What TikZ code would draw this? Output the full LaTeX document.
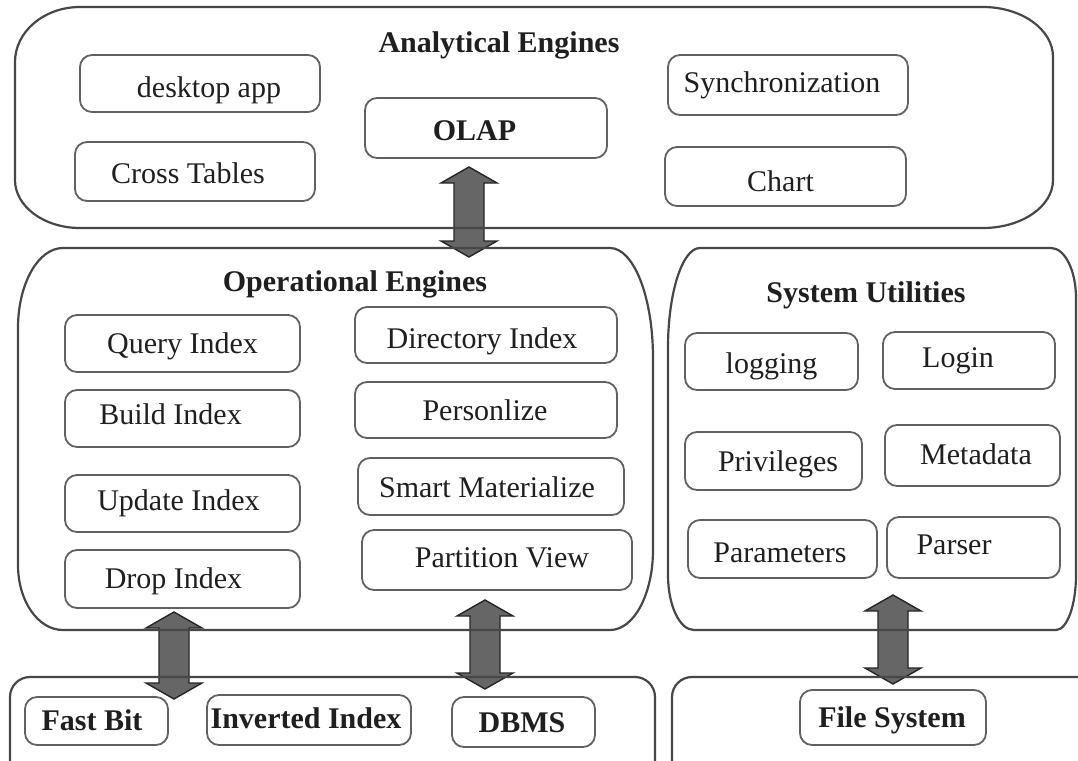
\documentclass[tikz,border=0pt]{standalone}
\usepackage{fontspec}
\setmainfont{Liberation Serif}
\usetikzlibrary{calc}
\tikzset{
  cont/.style={draw=black!72, line width=1.1pt},
  ibox/.style={draw=black!62, line width=0.9pt, rounded corners=6pt, inner sep=0pt, align=center, font=\fontsize{15}{18}\selectfont, text=black!88},
  bbox/.style={ibox, font=\fontsize{15}{18}\selectfont\bfseries},
  ttl/.style={font=\fontsize{15}{18}\selectfont\bfseries, inner sep=0pt, text=black!88},
  fatarrow/.style={draw=black!85, fill=black!60, line width=0.7pt, line join=miter},
}
% text placed inside a box: #1 horizontal shift (x2), #2 baseline raise
\newcommand\T[3]{\makebox[0pt]{\hspace*{#1}\raisebox{#2}[0pt][0pt]{#3}}}
\newcommand\fatarrow[2]{%
  \draw[fatarrow] let \p1=(#1), \p2=(#2) in
    (\x1,\y1) -- (\x1+14pt,\y1-8pt) -- (\x1+7.5pt,\y1-8pt) -- (\x1+7.5pt,\y2+8pt)
    -- (\x1+14pt,\y2+8pt) -- (\x1,\y2) -- (\x1-14pt,\y2+8pt) -- (\x1-7.5pt,\y2+8pt)
    -- (\x1-7.5pt,\y1-8pt) -- (\x1-14pt,\y1-8pt) -- cycle;}
\begin{document}
\begin{tikzpicture}[x=0.5pt, y=-0.5pt]
\clip (0,0) rectangle (1078,761);
\fill[white] (0,0) rectangle (1078,761);

% arrow end points
\coordinate (a1t) at (469,167); \coordinate (a1b) at (469,257);
\coordinate (a2t) at (174,612); \coordinate (a2b) at (174,699);
\coordinate (a3t) at (485,600); \coordinate (a3b) at (485,689);
\coordinate (a4t) at (893,595); \coordinate (a4b) at (893,684);
\fatarrow{a1t}{a1b}
\fatarrow{a2t}{a2b}
\fatarrow{a3t}{a3b}
\fatarrow{a4t}{a4b}

% containers
\draw[cont] (80,7) -- (983,7) .. controls (1021.6,7) and (1053,29.4) .. (1053,57)
  -- (1053,180) .. controls (1053,206.5) and (1021.6,228) .. (983,228)
  -- (80,228) .. controls (44.1,228) and (15,206.5) .. (15,180)
  -- (15,62) .. controls (15,31.6) and (44.1,7) .. (80,7) -- cycle;
\draw[cont] (63,248) -- (610,248) .. controls (633.7,248) and (653,297) .. (653,358)
  -- (653,550) .. controls (653,594) and (634,630) .. (610,630)
  -- (63,630) .. controls (38,630) and (18,601) .. (18,565)
  -- (18,328) .. controls (18,284) and (38,248) .. (63,248) -- cycle;
\draw[cont] (700,248) -- (1051,248) .. controls (1064.8,248) and (1076,270.4) .. (1076,298)
  -- (1076,575) .. controls (1076,605.4) and (1067,630) .. (1056,630)
  -- (694,630) .. controls (679.6,630) and (668,605.4) .. (668,575)
  -- (668,348) .. controls (668,292.8) and (682.3,248) .. (700,248) -- cycle;
\draw[cont, rounded corners=10pt] (10,790) -- (10,677) -- (655,677) -- (655,790);
\draw[cont, rounded corners=10pt] (672,790) -- (672,677) -- (1100,677);

% titles
\node[ttl] (tan) at (499,45) {Analytical Engines};
\node[ttl] (top) at (355,284) {Operational Engines};
\node[ttl] (tsu) at (866,295) {System Utilities};

% analytical engines
\node[ibox, minimum width=120pt, minimum height=28.5pt] (desk) at (200,83.5) {\T{9pt}{-6.75pt}{desktop app}};
\node[ibox, minimum width=120pt, minimum height=29.5pt] (cross) at (195,171.5) {\T{-7pt}{-5.75pt}{Cross Tables}};
\node[bbox, minimum width=121pt, minimum height=30pt] (olap) at (486,128) {\T{-11.5pt}{-6pt}{OLAP}};
\node[ibox, minimum width=120pt, minimum height=30pt] (sync) at (788,85) {\T{-6pt}{-3.5pt}{Synchronization}};
\node[ibox, minimum width=120.5pt, minimum height=29.5pt] (chart) at (785.5,176.5) {\T{-5pt}{-7.25pt}{Chart}};

% operational engines
\node[ibox, minimum width=117.5pt, minimum height=28.5pt] (qi) at (182.5,343.5) {\T{0pt}{-4.75pt}{Query Index}};
\node[ibox, minimum width=117.5pt, minimum height=28.5pt] (bi) at (182.5,418.5) {\T{-12pt}{-2.75pt}{Build Index}};
\node[ibox, minimum width=117.5pt, minimum height=28.5pt] (ui) at (182.5,503.5) {\T{-4pt}{-3.25pt}{Update Index}};
\node[ibox, minimum width=117.5pt, minimum height=29pt] (di) at (182.5,579) {\T{-9pt}{-4.5pt}{Drop Index}};
\node[ibox, minimum width=131pt, minimum height=28pt] (dir) at (486,335) {\T{-4pt}{-6.5pt}{Directory Index}};
\node[ibox, minimum width=131pt, minimum height=28pt] (pers) at (486,410) {\T{-1pt}{-5pt}{Personlize}};
\node[ibox, minimum width=133pt, minimum height=28.5pt] (smart) at (491,486.5) {\T{-4pt}{-5.25pt}{Smart Materialize}};
\node[ibox, minimum width=135pt, minimum height=30pt] (part) at (497,560) {\T{5pt}{-3.5pt}{Partition View}};

% system utilities
\node[ibox, minimum width=86.5pt, minimum height=28.5pt] (log) at (771.5,361.5) {\T{0pt}{-5.75pt}{logging}};
\node[ibox, minimum width=86pt, minimum height=28.5pt] (login) at (969,360.5) {\T{-11pt}{-3.25pt}{Login}};
\node[ibox, minimum width=88.5pt, minimum height=29pt] (priv) at (773.5,461) {\T{4.5pt}{-5pt}{Privileges}};
\node[ibox, minimum width=87.5pt, minimum height=30.5pt] (meta) at (972.5,455.5) {\T{3.5pt}{-4.25pt}{Metadata}};
\node[ibox, minimum width=94.5pt, minimum height=29pt] (param) at (782.5,549) {\T{-2.5pt}{-6.5pt}{Parameters}};
\node[ibox, minimum width=86.5pt, minimum height=30.5pt] (pars) at (973.5,547.5) {\T{-19.5pt}{-3.25pt}{Parser}};

% bottom layer
\node[bbox, minimum width=71.5pt, minimum height=24pt] (fb) at (96.5,721) {\T{-4.5pt}{-4.5pt}{Fast Bit}};
\node[bbox, minimum width=102pt, minimum height=25pt] (inv) at (309,720) {\T{-3pt}{-4pt}{Inverted Index}};
\node[bbox, minimum width=71.5pt, minimum height=25pt] (dbms) at (523.5,722) {\T{-1.5pt}{-5pt}{DBMS}};
\node[bbox, minimum width=93pt, minimum height=27.5pt] (fs) at (893,717.5) {\T{-1pt}{-4.75pt}{File System}};
\end{tikzpicture}
\end{document}
